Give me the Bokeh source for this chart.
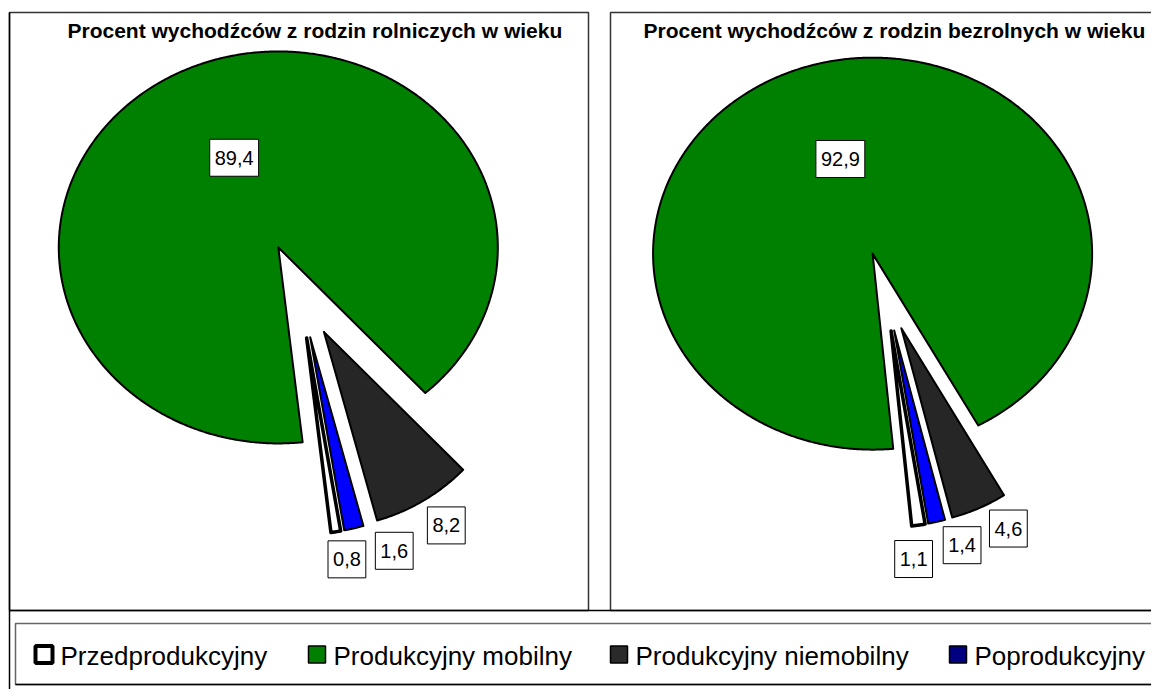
import math
from bokeh.plotting import figure
from bokeh.models import Range1d
from bokeh.embed import file_html
from bokeh.resources import INLINE
from bokeh.core.properties import value

# ---------------- data ----------------
categories = ["Przedprodukcyjny", "Produkcyjny mobilny", "Produkcyjny niemobilny", "Poprodukcyjny"]
rolnicze = [0.8, 89.4, 8.2, 1.6]
bezrolne = [1.1, 92.9, 4.6, 1.4]
titles = ["Procent wychodźców z rodzin rolniczych w wieku",
          "Procent wychodźców z rodzin bezrolnych w wieku"]

# ---------------- styles ----------------
slice_colors = ["#FFFFFF", "#008000", "#262626", "#0000FF"]
legend_colors = ["#FFFFFF", "#008000", "#2a2a2a", "#000080"]
FONT = "Liberation Sans"

# layout (image pixel coordinates)
pies = [
    dict(values=rolnicze, title=titles[0], cx=299, cy=290, r=196, explode=48, start=80,
         label_angle=[80, None, 58, 70], label_pad=[29, None, 33, 33], title_x=67),
    dict(values=bezrolne, title=titles[1], cx=885, cy=291, r=196, explode=40, start=80,
         label_angle=[84, None, 62.6, 73.2], label_pad=[33, None, 31, 29], title_x=643),
]
BIG_STRETCH = 1.12   # horizontal widening of the big slice outline, as in the reference

p = figure(width=1151, height=689, x_range=Range1d(0, 1151), y_range=Range1d(689, 0),
           output_backend="svg", toolbar_location=None, min_border=0,
           x_axis_location=None, y_axis_location=None)
p.grid.visible = False
p.outline_line_color = None
p.background_fill_color = "white"

# panel frames
p.quad(left=[9, 610], right=[588, 1190], top=[12, 12], bottom=[610, 610],
       fill_color=None, line_color="#333333", line_width=1.5)
p.segment(x0=[9, 9], y0=[12, 610], x1=[9, 1159], y1=[697, 610], line_color="black", line_width=1.5)
# legend frame
p.quad(left=[15], right=[1175], top=[623], bottom=[684], fill_color="white",
       line_color="#666666", line_width=1.5)
p.segment(x0=[15], y0=[684], x1=[1159], y1=[684], line_color="black", line_width=1.5)


def fmt(v):
    return ("%.1f" % v).replace(".", ",")


def rad_at(theta_deg, rx, ry):
    t = math.radians(theta_deg)
    return 1.0 / math.sqrt((math.cos(t) / rx) ** 2 + (math.sin(t) / ry) ** 2)


for pie in pies:
    vals = pie["values"]
    total = sum(vals)
    big = vals.index(max(vals))
    cx, cy, r, e = pie["cx"], pie["cy"], pie["r"], pie["explode"]
    a = pie["start"]
    xs, ys, fills, lws = [], [], [], []
    lab_x, lab_y, lab_t = [], [], []
    for i, v in enumerate(vals):
        span = v / total * 360.0
        a0, a1 = a, a + span
        mid = math.radians((a0 + a1) / 2)
        ax = cx + e * math.cos(mid)
        ay = cy + e * math.sin(mid)
        rx = r * BIG_STRETCH if i == big else r
        n = max(4, int(span * 2))
        px, py = [ax], [ay]
        for k in range(n + 1):
            th = a0 + (a1 - a0) * k / n
            rr = rad_at(th, rx, r)
            px.append(ax + rr * math.cos(math.radians(th)))
            py.append(ay + rr * math.sin(math.radians(th)))
        xs.append(px)
        ys.append(py)
        fills.append(slice_colors[i])
        lws.append(3.5 if i == 0 else 2.0)
        la = pie["label_angle"][i]
        if la is None:
            lab_x.append(ax + 0.51 * r * math.cos(mid))
            lab_y.append(ay + 0.51 * r * math.sin(mid))
        else:
            rr = r + e + pie["label_pad"][i]
            lab_x.append(cx + rr * math.cos(math.radians(la)))
            lab_y.append(cy + rr * math.sin(math.radians(la)))
        lab_t.append(fmt(v))
        a = a1
    for i in range(len(vals)):
        p.patches(xs=[xs[i]], ys=[ys[i]], fill_color=fills[i], line_color="black",
                  line_width=lws[i], line_join="round")
    widths = [len(t.replace(",", "")) * 11.1 + 5.6 + 10 for t in lab_t]
    p.rect(x=lab_x, y=lab_y, width=widths, height=[37] * len(lab_t), fill_color="white",
           line_color="black", line_width=1)
    p.text(x=lab_x, y=lab_y, text=lab_t, text_align="center", text_baseline="middle",
           text_font=value(FONT), text_font_size="20px", text_color="black")
    p.text(x=[pie["title_x"]], y=[30], text=[pie["title"]], text_align="left",
           text_baseline="middle", text_font=value(FONT), text_font_style="bold",
           text_font_size="21px", text_color="black")

# legend
leg_left = [35, 308, 610, 949]
p.rect(x=[x + 8.5 for x in leg_left], y=[654] * 4, width=[17] * 4, height=[17] * 4,
       fill_color=legend_colors, line_color="black", line_width=[4, 1.5, 1.5, 1.5])
p.text(x=[x + 25 for x in leg_left], y=[655] * 4, text=categories, text_align="left",
       text_baseline="middle", text_font=value(FONT), text_font_size="26px",
       text_color="black")

open("out.html", "w").write(file_html(p, INLINE))
